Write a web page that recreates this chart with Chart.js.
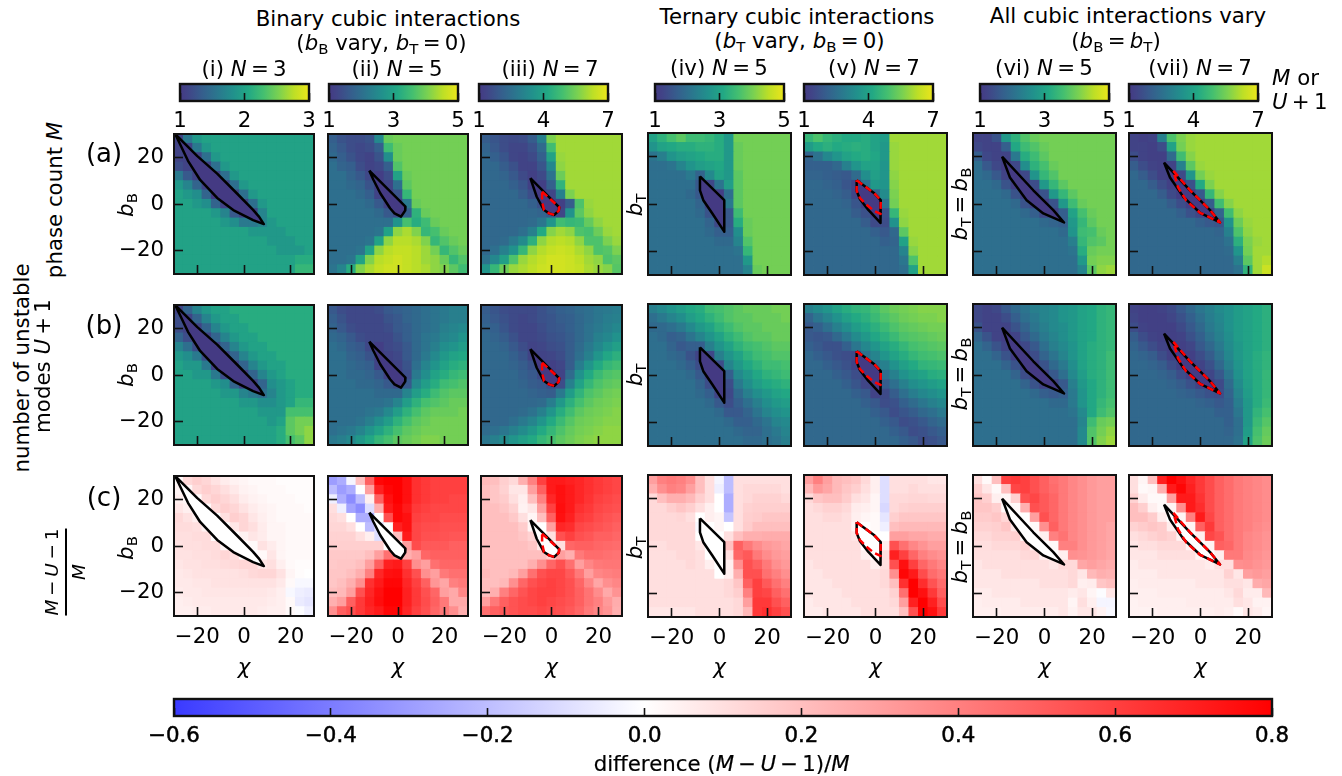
<!DOCTYPE html>
<html>
<head>
<meta charset="utf-8">
<script src="https://cdn.jsdelivr.net/npm/chart.js@4"></script>
<style>
  body { margin: 0; background: #fff; }
  #page { position: relative; width: 1342px; height: 776px; overflow: hidden; font-family: "DejaVu Sans", sans-serif; color: #000; }
  #page canvas { position: absolute; }
  .txt { position: absolute; white-space: nowrap; font-size: 21.3px; line-height: 1; }
  .txt sub { font-size: 70%; line-height: 0; vertical-align: -0.25em; }
  .frac { display: inline-flex; flex-direction: column; align-items: center; font-size: 18.5px; }
  .frac span:first-child { border-bottom: 2px solid #000; padding-bottom: 3px; }
  .frac span:last-child { padding-top: 3px; }
</style>
</head>
<body>
<div id="page"></div>
<script>
// grid centres of the heat maps (rows run from top to bottom)
const gridChi = [-28, -24, -20, -16, -12, -8, -4, 0, 4, 8, 12, 16, 20, 24, 28];
const gridB = [28, 24, 20, 16, 12, 8, 4, 0, -4, -8, -12, -16, -20, -24, -28];
const axisTicks = [-20, 0, 20];

const ticksN3 = [1, 2, 3];
const ticksN5 = [1, 3, 5];
const ticksN7 = [1, 4, 7];
const ticksDiff = [-0.6, -0.4, -0.2, 0, 0.2, 0.4, 0.6, 0.8];

// phase count M
const phaseI = [
  [1.1,1.6,1.9,2,2,2,2,2,2,2,2,2,2,2,2],
  [1.1,1.1,1.6,1.9,2,2,2,2,2,2,2,2,2,2,2],
  [1.1,1.1,1.1,1.5,1.9,2,2,2,2,2,2,2,2,2,2],
  [1.2,1.1,1.1,1.1,1.5,1.9,2,2,2,2,2,2,2,2,2],
  [1.6,1.3,1.1,1,1.1,1.5,1.9,2,2,2,2,2,2,2,2],
  [1.9,1.7,1.4,1.1,1,1.1,1.5,1.9,2,2,2,2,2,2,2],
  [2,1.9,1.8,1.4,1,1,1.1,1.5,1.9,2,2,2,2,2,2],
  [2,2,1.9,1.8,1.4,1.1,1,1.1,1.5,1.9,2,2,2,2,2],
  [2,2,2,2,1.9,1.7,1.3,1.1,1.1,1.7,2,2,2,2,2],
  [2,2,2,2,2,1.9,1.8,1.6,1.6,1.7,1.9,2,2,2,2],
  [2,2,2,2,2,2,2,2,1.9,1.9,1.9,1.9,2,2,2],
  [2,2,2,2,2,2,2,2,2,2,1.9,1.9,1.9,2,2],
  [2,2,2,2,2,2,2,2,2,2,2,1.9,1.9,1.9,2],
  [2,2,2,2,2,2,2,2,2,2,2,2,2,2.1,2.1],
  [2,2,2,2,2,2,2,2,2,2,2,2,2,2.2,2.2]
];
const phaseII = [
  [1.7,1.5,1.4,1.4,1.5,2.5,3.9,4,4,4,4,4,4,4,4],
  [1.8,1.6,1.4,1.3,1.4,1.7,3.5,3.9,4,4,4,4,4,4,4],
  [1.9,1.7,1.5,1.3,1.2,1.5,2.6,3.9,4,4,4,4,4,4,4],
  [2,1.8,1.7,1.4,1.2,1.3,1.7,3.7,4,4,4,4,4,4,4],
  [2,2,1.8,1.6,1.3,1.1,1.4,3,3.9,4,4,4,4,4,4],
  [2,2,1.9,1.8,1.5,1.1,1.2,2,3.8,4,4,4,4,4,4],
  [2,2,2,1.9,1.7,1.2,1.1,1.5,3.4,4,4,4,4,4,4],
  [2,2,2,2,1.9,1.6,1.2,1.1,2.2,3.9,4,4,4,4,4],
  [2,2,2,2,2,1.9,1.6,1.4,1.7,3.3,3.9,4,4,4,4],
  [2,2,2,2,2,2,2,2.7,3.6,3.2,3.5,3.9,4,4,4],
  [2,2,2,2,2,2.1,3,4.2,4.4,4.1,3.4,3.6,3.9,4,4],
  [2,2,2,2,2.1,3,4.2,4.5,4.5,4.4,4.1,3.4,3.7,3.9,4],
  [2,2,2,2.1,3,4.2,4.5,4.6,4.6,4.5,4.3,4,3.4,3.7,3.9],
  [2,2,2.1,3,4.1,4.5,4.6,4.7,4.6,4.5,4.3,4.2,3.9,3.4,3.7],
  [2.1,2.4,3.2,4.1,4.4,4.6,4.7,4.7,4.6,4.5,4.4,4.2,4.1,3.8,3.5]
];
const phaseIII = [
  [2,1.8,1.6,1.5,1.6,2,3,5.6,6,6,6,6,6,6,6],
  [2.2,1.9,1.6,1.4,1.4,1.7,2.4,4.8,6,6,6,6,6,6,6],
  [2.3,2.1,1.8,1.4,1.3,1.5,2.1,4,5.9,6,6,6,6,6,6],
  [2.3,2.3,2,1.7,1.3,1.3,1.8,3.2,5.8,6,6,6,6,6,6],
  [2.3,2.3,2.2,1.9,1.5,1.2,1.5,2.6,5.4,6,6,6,6,6,6],
  [2.3,2.3,2.3,2.1,1.8,1.2,1.2,2.1,4.5,6,6,6,6,6,6],
  [2.3,2.3,2.3,2.3,2,1.6,1.2,1.4,3,5.6,6,6,6,6,6],
  [2.3,2.3,2.3,2.3,2.3,2.1,1.7,1.2,1.2,2,5,5.9,6,6,6],
  [2.3,2.3,2.3,2.3,2.3,2.3,2.2,1.9,1.4,3.5,5.2,5.8,6,6,6],
  [2.3,2.3,2.3,2.3,2.3,2.4,2.7,3.6,4.8,4.6,4.7,5.3,5.8,6,6],
  [2.3,2.3,2.3,2.3,2.5,3,4.2,5.7,6,5.8,5,4.9,5.4,5.9,6],
  [2.3,2.3,2.4,2.8,3.3,4.4,5.8,6.2,6.3,6.2,5.8,5,5,5.6,5.9],
  [2.3,2.5,3,3.5,4.6,5.8,6.2,6.4,6.5,6.4,6.1,5.8,5,5.1,5.6],
  [2.6,3.2,3.9,5,5.9,6.2,6.4,6.6,6.6,6.5,6.3,6,5.8,5,5.2],
  [3.6,4.6,5.4,5.9,6.1,6.3,6.5,6.6,6.6,6.5,6.4,6.1,5.9,5.7,5.1]
];
const phaseIV = [
  [3,3.3,3.6,3.8,3.5,3.5,3.4,3.2,2.8,4,4,4,4,4,4],
  [2.7,3,3.1,3.2,3.2,3.3,3.3,3.2,2.8,3.9,4,4,4,4,4],
  [2.1,2.3,2.7,2.9,3,3.1,3.2,3.2,2.8,3.9,4,4,4,4,4],
  [2,2,2.1,2.4,2.7,2.9,3,3.1,2.8,3.9,4,4,4,4,4],
  [2,2,2,2,2.2,1.8,2.5,3,2.8,3.8,4,4,4,4,4],
  [2,2,2,2,2,1.6,1.3,2.1,2.9,3.8,4,4,4,4,4],
  [2,2,2,2,1.9,1.6,1.2,1.1,2,3.8,4,4,4,4,4],
  [2,2,2,2,2,1.8,1.2,1.1,2.2,3.8,4,4,4,4,4],
  [2,2,2,2,2,1.9,1.5,1.1,1.6,3.5,4,4,4,4,4],
  [2,2,2,2,2,2,1.8,1.3,1.6,3.2,3.9,4,4,4,4],
  [2,2,2,2,2,2,1.9,1.7,1.7,2.6,3.9,4,4,4,4],
  [2,2,2,2,2,2,2,1.9,1.9,2.4,3.7,4,4,4,4],
  [2,2,2,2,2,2,2,2,2,2.1,3.4,4,4,4,4],
  [2,2,2,2,2,2,2,2,2,2,2.8,4,4,4,4],
  [2,2,2,2,2,2,2,2,2,2,2.4,3.9,4,4,4]
];
const phaseV = [
  [4.6,5,4.6,4.4,4.2,4.2,4.3,4,3.8,6,6,6,6,6,6],
  [3.8,4.2,4.4,4.2,4.3,4.4,4.3,4,3.7,5.9,6,6,6,6,6],
  [2.2,2.6,3.2,3.6,4,4.2,4.3,4.1,3.7,5.9,6,6,6,6,6],
  [2.1,2.1,2.1,2.3,3,3.6,4,4,3.6,5.9,6,6,6,6,6],
  [2.2,2.2,2.1,2,1.9,2.4,3.4,3.9,3.6,5.8,6,6,6,6,6],
  [2.3,2.3,2.2,2.1,1.8,1.4,2.6,3.7,3.6,5.7,6,6,6,6,6],
  [2.3,2.3,2.3,2.2,2,1.4,1.2,2.2,3.3,5.6,6,6,6,6,6],
  [2.3,2.3,2.3,2.3,2.2,1.8,1.2,1.1,2.6,5.5,6,6,6,6,6],
  [2.3,2.3,2.3,2.3,2.3,2,1.7,1.2,1.7,4.6,5.9,6,6,6,6],
  [2.3,2.3,2.3,2.3,2.3,2.3,2,1.5,1.6,3.5,5.8,6,6,6,6],
  [2.3,2.3,2.3,2.3,2.3,2.3,2.3,2.1,1.9,2.3,5.2,6,6,6,6],
  [2.3,2.3,2.3,2.3,2.3,2.3,2.3,2.3,2.1,2.2,4,5.9,6,6,6],
  [2.3,2.3,2.3,2.3,2.3,2.3,2.3,2.3,2.3,2.3,3.1,5.7,6,6,6],
  [2.3,2.3,2.3,2.3,2.3,2.3,2.3,2.3,2.3,2.3,2.7,5,6,6,6],
  [2.3,2.3,2.3,2.3,2.3,2.3,2.3,2.3,2.3,2.3,2.5,4,6,6,6]
];
const phaseVI = [
  [1.2,1.2,1.5,2.8,3.3,3.7,3.9,4,4,4,4,4,4,4,4],
  [1.3,1.2,1.2,1.7,3.1,3.5,3.7,3.9,4,4,4,4,4,4,4],
  [1.7,1.3,1.2,1.2,2.2,3.2,3.5,3.8,4,4,4,4,4,4,4],
  [2,1.6,1.3,1.1,1.3,2.6,3.3,3.6,3.9,4,4,4,4,4,4],
  [2,1.9,1.6,1.2,1.1,1.3,2.7,3.4,3.7,4,4,4,4,4,4],
  [2,2,1.9,1.5,1.1,1.1,1.4,2.8,3.4,3.8,4,4,4,4,4],
  [2,2,2,1.9,1.5,1.1,1.1,1.5,2.8,3.4,3.8,4,4,4,4],
  [2,2,2,2,1.9,1.5,1.2,1.1,1.5,2.8,3.5,3.9,4,4,4],
  [2,2,2,2,2,1.9,1.7,1.3,1.2,1.7,3,3.6,3.9,4,4],
  [2,2,2,2,2,2,2,1.9,1.8,1.7,2.8,3.4,3.8,4,4],
  [2,2,2,2,2,2,2,2,2,1.9,2.7,3.5,3.6,3.9,4],
  [2,2,2,2,2,2,2,2,2,2,2.3,3.4,3.7,3.8,4],
  [2,2,2,2,2,2,2,2,2,2,2.1,3.2,3.9,4,4],
  [2,2,2,2,2,2,2,2,2,2,2,2.8,4,4.1,4.1],
  [2,2,2,2,2,2,2,2,2,2,2,2.4,3.8,4.2,4.3]
];
const phaseVII = [
  [1.3,1.2,1.3,3,5,5.6,5.9,6,6,6,6,6,6,6,6],
  [1.3,1.3,1.2,1.6,4,5.5,5.9,6,6,6,6,6,6,6,6],
  [1.6,1.3,1.2,1.2,2.4,4.8,5.7,6,6,6,6,6,6,6,6],
  [2,1.6,1.3,1.2,1.3,3,5.2,5.9,6,6,6,6,6,6,6],
  [2.3,2,1.6,1.2,1.1,1.5,3.6,5.5,5.9,6,6,6,6,6,6],
  [2.3,2.3,2,1.6,1.2,1.1,1.7,4.2,5.6,6,6,6,6,6,6],
  [2.3,2.3,2.3,2,1.5,1.1,1.1,1.9,4.6,5.7,6,6,6,6,6],
  [2.3,2.3,2.3,2.3,2,1.6,1.2,1.1,2,4.8,5.7,6,6,6,6],
  [2.3,2.3,2.3,2.3,2.3,2.1,1.7,1.4,1.2,2.2,4.8,5.8,6,6,6],
  [2.3,2.3,2.3,2.3,2.3,2.3,2.3,2.1,1.9,1.8,3.5,5.4,5.9,6,6],
  [2.3,2.3,2.3,2.3,2.3,2.3,2.3,2.3,2.3,2.2,3,5,5.8,6,6],
  [2.3,2.3,2.3,2.3,2.3,2.3,2.3,2.3,2.3,2.3,2.6,4.4,5.6,5.9,6],
  [2.3,2.3,2.3,2.3,2.3,2.3,2.3,2.3,2.3,2.3,2.4,3.6,5.5,6,6],
  [2.3,2.3,2.3,2.3,2.3,2.3,2.3,2.3,2.3,2.3,2.3,3,5.2,6,6.2],
  [2.3,2.3,2.3,2.3,2.3,2.3,2.3,2.3,2.3,2.3,2.3,2.6,4.5,6,6.5]
];

// number of unstable modes U + 1
const unstableI = [
  [1.1,1.4,1.7,1.9,2,2,2.1,2.1,2.1,2.1,2.1,2.1,2.1,2.1,2.1],
  [1.2,1.1,1.4,1.7,1.9,2,2,2.1,2.1,2.1,2.1,2.1,2.1,2.1,2.1],
  [1.2,1.1,1.1,1.4,1.7,1.9,2,2,2.1,2.1,2.1,2.1,2.1,2.1,2.1],
  [1.4,1.2,1.1,1.1,1.4,1.7,1.9,2,2,2.1,2.1,2.1,2.1,2.1,2.1],
  [1.7,1.5,1.2,1,1.1,1.4,1.7,1.9,2,2,2.1,2.1,2.1,2.1,2.1],
  [1.9,1.8,1.6,1.2,1,1.1,1.4,1.7,1.9,2,2,2.1,2.1,2.1,2.1],
  [2,1.9,1.9,1.6,1.1,1,1.1,1.4,1.7,1.9,2,2,2.1,2.1,2.1],
  [2,2,1.9,1.9,1.6,1.2,1,1.1,1.4,1.7,1.9,2,2.1,2.1,2.1],
  [2,2,2,2,1.9,1.8,1.4,1.1,1.1,1.4,1.8,1.9,2,2.1,2.1],
  [2,2,2,2,2,1.9,1.9,1.7,1.6,1.5,1.7,1.9,2,2.1,2.1],
  [2,2,2,2,2,2,2,1.9,1.9,1.8,1.8,1.9,2,2.2,2.2],
  [2,2,2,2,2,2,2,2,2,1.9,1.9,1.9,2.3,2.3,2.3],
  [2,2,2,2,2,2,2,2,2,2,1.9,2,2.4,2.5,2.5],
  [2,2,2,2,2,2,2,2,2,2,2,2.1,2.4,2.5,2.6],
  [2,2,2,2,2,2,2,2,2,2,2,2.1,2.3,2.4,2.6]
];
const unstableII = [
  [1.6,1.4,1.3,1.3,1.3,1.4,1.6,1.7,1.8,1.9,2,2.1,2.2,2.3,2.3],
  [1.7,1.5,1.3,1.3,1.3,1.3,1.5,1.6,1.8,1.9,2,2.1,2.2,2.3,2.3],
  [1.8,1.6,1.4,1.3,1.3,1.3,1.4,1.6,1.7,1.9,2,2.1,2.3,2.4,2.5],
  [1.9,1.8,1.6,1.4,1.3,1.3,1.3,1.5,1.7,1.9,2.1,2.2,2.4,2.5,2.7],
  [2,1.9,1.7,1.6,1.3,1.1,1.3,1.4,1.6,1.9,2.1,2.3,2.6,2.7,2.9],
  [2,2,1.8,1.7,1.5,1.1,1.2,1.3,1.6,1.9,2.2,2.5,2.8,3,3.1],
  [2,2,1.9,1.8,1.7,1.2,1.1,1.2,1.5,2,2.4,2.7,3,3.2,3.3],
  [2,2,1.9,1.9,1.8,1.6,1.2,1.1,1.4,2.2,2.6,3,3.2,3.4,3.5],
  [2,2,2,1.9,1.9,1.8,1.6,1.4,1.6,2.5,2.9,3.2,3.5,3.6,3.7],
  [2,2,2,2,2,1.9,1.9,1.9,2.4,2.9,3.2,3.5,3.7,3.8,3.8],
  [2,2,2,2,2,2,2.1,2.4,2.9,3.3,3.6,3.7,3.8,3.9,3.9],
  [2,2,2,2,2.1,2.2,2.5,2.9,3.3,3.6,3.8,3.9,3.9,3.9,4],
  [2,2,2,2.1,2.3,2.6,2.9,3.3,3.6,3.8,3.9,4,4,4,4],
  [2,2.1,2.2,2.4,2.7,3,3.3,3.6,3.8,3.9,4,4,4,4,4],
  [2.2,2.3,2.5,2.8,3.1,3.4,3.6,3.8,3.9,4,4.1,4.1,4,4,4]
];
const unstableIII = [
  [2,1.8,1.6,1.5,1.5,1.5,1.7,1.9,2.1,2.2,2.4,2.5,2.7,2.8,2.9],
  [2.1,1.9,1.7,1.5,1.4,1.5,1.7,1.8,2,2.1,2.3,2.5,2.7,2.9,3],
  [2.2,2.1,1.8,1.5,1.4,1.4,1.6,1.8,1.9,2.1,2.3,2.6,2.8,3,3.2],
  [2.3,2.2,2,1.7,1.4,1.4,1.5,1.7,1.8,2,2.3,2.6,3,3.2,3.5],
  [2.3,2.3,2.2,1.9,1.6,1.3,1.4,1.6,1.7,2,2.4,2.8,3.2,3.6,3.9],
  [2.3,2.3,2.3,2.1,1.8,1.3,1.3,1.4,1.6,2,2.5,3,3.6,4.1,4.4],
  [2.3,2.3,2.3,2.2,2,1.7,1.2,1.2,1.4,2,2.9,3.6,4.2,4.6,4.8],
  [2.3,2.3,2.3,2.3,2.1,1.9,1.5,1.2,1.3,2.4,3.5,4.2,4.7,5,5.1],
  [2.3,2.3,2.3,2.3,2.2,2,1.9,1.6,1.6,3,4,4.6,5,5.2,5.3],
  [2.3,2.3,2.3,2.3,2.3,2.2,2.1,2,2.8,3.8,4.5,5,5.2,5.4,5.5],
  [2.3,2.3,2.3,2.3,2.3,2.3,2.4,2.9,3.7,4.4,4.9,5.2,5.4,5.5,5.6],
  [2.3,2.3,2.3,2.3,2.4,2.6,3,3.6,4.3,4.8,5.2,5.4,5.5,5.6,5.7],
  [2.3,2.3,2.3,2.5,2.8,3.1,3.6,4.2,4.7,5.1,5.4,5.5,5.6,5.7,5.7],
  [2.4,2.5,2.7,3,3.3,3.7,4.2,4.6,5,5.3,5.5,5.6,5.7,5.8,5.8],
  [2.7,3,3.3,3.6,3.9,4.2,4.6,4.9,5.2,5.4,5.6,5.7,5.8,5.8,5.8]
];
const unstableIV = [
  [2.3,2.5,2.7,2.9,3.1,3.2,3.5,3.6,3.7,3.8,3.9,3.9,3.9,4,4],
  [2,2.2,2.4,2.6,2.9,3.1,3.3,3.5,3.7,3.8,3.8,3.9,3.9,3.9,4],
  [1.9,1.9,2,2.2,2.5,2.8,3,3.3,3.5,3.7,3.8,3.8,3.9,3.9,3.9],
  [2,1.9,1.7,1.8,2.1,2.4,2.7,3,3.3,3.5,3.7,3.8,3.8,3.9,3.9],
  [2,2,1.8,1.6,1.7,1.7,2.3,2.7,3,3.3,3.5,3.6,3.7,3.8,3.8],
  [2,2,1.9,1.8,1.5,1.2,1.3,2.3,2.7,3,3.3,3.5,3.6,3.7,3.7],
  [2,2,2,1.9,1.7,1.4,1.1,1.4,2.4,2.8,3.1,3.3,3.5,3.5,3.6],
  [2,2,2,2,1.9,1.6,1.2,1.1,1.7,2.5,2.8,3.1,3.3,3.4,3.5],
  [2,2,2,2,2,1.8,1.4,1.1,1.4,2.2,2.6,2.9,3.1,3.2,3.3],
  [2,2,2,2,2,1.9,1.7,1.2,1.3,1.9,2.3,2.6,2.8,3,3.1],
  [2,2,2,2,2,2,1.9,1.6,1.4,1.7,2,2.3,2.6,2.8,2.9],
  [2,2,2,2,2,2,2,1.9,1.6,1.6,1.8,2.1,2.4,2.6,2.7],
  [2,2,2,2,2,2,2,2,1.9,1.7,1.7,1.9,2.1,2.4,2.5],
  [2,2,2,2,2,2,2,2,2,1.9,1.8,1.8,2,2.2,2.4],
  [2,2,2,2,2,2,2,2,2,2,1.9,1.9,2,2.1,2.3]
];
const unstableV = [
  [3,3.3,3.6,4,4.3,4.5,4.6,4.9,5.2,5.4,5.5,5.6,5.7,5.7,5.7],
  [2.2,2.7,3.1,3.5,3.9,4.2,4.4,4.7,5,5.2,5.4,5.5,5.6,5.6,5.7],
  [1.9,2.1,2.5,3,3.4,3.8,4.1,4.4,4.7,5,5.2,5.3,5.4,5.5,5.5],
  [1.9,1.8,1.9,2.3,2.8,3.3,3.7,4.1,4.4,4.7,5,5.1,5.2,5.3,5.4],
  [2.1,1.9,1.7,1.7,2.1,2.7,3.2,3.6,4,4.3,4.6,4.9,5,5.1,5.2],
  [2.3,2.1,1.9,1.7,1.6,1.5,2.6,3.1,3.6,4,4.3,4.6,4.8,4.9,5],
  [2.3,2.3,2.1,1.9,1.7,1.3,1.3,2.5,3,3.5,3.9,4.2,4.5,4.6,4.7],
  [2.3,2.3,2.3,2.1,1.9,1.6,1.2,1.3,2.5,3,3.5,3.8,4,4.3,4.4],
  [2.3,2.3,2.3,2.3,2.1,1.8,1.4,1.2,2,2.5,3,3.4,3.6,3.8,4],
  [2.3,2.3,2.3,2.3,2.3,2.1,1.9,1.3,1.5,2,2.5,2.9,3.2,3.4,3.6],
  [2.3,2.3,2.3,2.3,2.3,2.3,2.1,1.9,1.6,1.7,2.1,2.4,2.7,3,3.2],
  [2.3,2.3,2.3,2.3,2.3,2.3,2.3,2.1,1.9,1.6,1.8,2,2.3,2.5,2.8],
  [2.3,2.3,2.3,2.3,2.3,2.3,2.3,2.3,2.1,1.9,1.6,1.7,1.9,2.2,2.4],
  [2.3,2.3,2.3,2.3,2.3,2.3,2.3,2.3,2.3,2.1,1.9,1.6,1.7,1.9,2.1],
  [2.3,2.3,2.3,2.3,2.3,2.3,2.3,2.3,2.3,2.3,2.1,1.9,1.6,1.7,1.9]
];
const unstableVI = [
  [1.3,1.2,1.3,1.6,1.9,2.1,2.3,2.4,2.5,2.7,2.8,3,3.1,3.3,3.4],
  [1.3,1.2,1.2,1.4,1.7,2,2.2,2.4,2.5,2.7,2.8,3,3.1,3.3,3.4],
  [1.5,1.2,1.2,1.2,1.5,1.8,2.1,2.3,2.5,2.6,2.8,3,3.1,3.3,3.4],
  [1.8,1.5,1.2,1.1,1.2,1.6,1.9,2.2,2.4,2.6,2.8,3,3.1,3.3,3.4],
  [2,1.8,1.5,1.2,1.1,1.3,1.6,2,2.3,2.5,2.7,3,3.2,3.3,3.4],
  [2,2,1.8,1.5,1.1,1.1,1.4,1.8,2.1,2.4,2.7,3,3.2,3.3,3.5],
  [2,2,2,1.8,1.5,1.1,1.1,1.5,1.9,2.2,2.6,3,3.2,3.3,3.5],
  [2,2,2,2,1.8,1.4,1.1,1.2,1.6,2,2.5,2.9,3.2,3.3,3.5],
  [2,2,2,2,2,1.8,1.5,1.2,1.2,1.6,2.3,2.8,3.1,3.3,3.5],
  [2,2,2,2,2,2,1.9,1.7,1.6,1.7,2.2,2.7,3.1,3.3,3.5],
  [2,2,2,2,2,2,2,2,1.9,1.9,2.2,2.7,3.1,3.4,3.6],
  [2,2,2,2,2,2,2,2,2,2,2.1,2.5,3.1,3.5,3.7],
  [2,2,2,2,2,2,2,2,2,2,2,2.4,3.5,3.9,4],
  [2,2,2,2,2,2,2,2,2,2,2,2.5,3.7,4,4.2],
  [2,2,2,2,2,2,2,2,2,2,2,2.5,3.7,4.1,4.3]
];
const unstableVII = [
  [1.3,1.2,1.2,1.3,1.5,1.9,2.3,2.7,3,3.3,3.5,3.8,4,4.2,4.4],
  [1.4,1.2,1.2,1.2,1.4,1.7,2.1,2.5,2.9,3.2,3.5,3.8,4,4.2,4.4],
  [1.6,1.3,1.2,1.2,1.2,1.5,1.9,2.3,2.8,3.1,3.5,3.8,4,4.2,4.4],
  [2,1.6,1.3,1.2,1.2,1.3,1.7,2.1,2.6,3,3.4,3.8,4,4.2,4.4],
  [2.2,1.9,1.6,1.3,1.1,1.2,1.4,1.9,2.3,2.8,3.3,3.7,4,4.2,4.4],
  [2.3,2.2,2,1.6,1.2,1.1,1.2,1.6,2,2.6,3.2,3.7,4,4.3,4.5],
  [2.3,2.3,2.2,2,1.6,1.2,1.1,1.3,1.7,2.3,3,3.6,4,4.3,4.5],
  [2.3,2.3,2.3,2.2,2,1.6,1.2,1.1,1.4,1.9,2.7,3.5,4,4.3,4.6],
  [2.3,2.3,2.3,2.3,2.2,2,1.7,1.3,1.2,1.5,2.4,3.3,3.9,4.3,4.6],
  [2.3,2.3,2.3,2.3,2.3,2.2,2.1,1.9,1.7,1.6,2.2,3.1,3.8,4.3,4.6],
  [2.3,2.3,2.3,2.3,2.3,2.3,2.3,2.2,2.1,1.9,2.1,2.9,3.7,4.3,4.7],
  [2.3,2.3,2.3,2.3,2.3,2.3,2.3,2.3,2.3,2.1,2.1,2.7,3.7,4.5,4.9],
  [2.3,2.3,2.3,2.3,2.3,2.3,2.3,2.3,2.3,2.3,2.1,2.5,3.7,4.7,5.1],
  [2.3,2.3,2.3,2.3,2.3,2.3,2.3,2.3,2.3,2.3,2.2,2.5,3.8,4.9,5.3],
  [2.3,2.3,2.3,2.3,2.3,2.3,2.3,2.3,2.3,2.3,2.3,2.6,4,5,5.4]
];

// difference (M - U - 1) / M
const diffI = [
  [.02,.12,.15,.13,.09,.06,.04,.03,.02,.02,.02,.01,.01,.01,.01],
  [.03,.03,.12,.15,.13,.1,.07,.04,.03,.02,.02,.02,.01,.01,.01],
  [.05,.03,.02,.12,.15,.13,.1,.06,.04,.03,.02,.02,.02,.01,.01],
  [.08,.05,.03,.02,.12,.15,.13,.09,.06,.04,.03,.02,.02,.02,.01],
  [.12,.09,.05,.01,0,.1,.15,.13,.08,.05,.03,.02,.02,.02,.02],
  [.11,.11,.1,.04,0,0,.08,.13,.1,.06,.03,.03,.02,.02,.02],
  [.1,.1,.11,.11,.01,0,0,.04,.08,.06,.03,.03,.02,.02,.02],
  [.09,.1,.1,.11,.11,.03,0,0,.02,.09,.06,.03,.02,.02,.02],
  [.09,.09,.1,.1,.11,.13,.1,.01,-.01,.02,.08,.03,.02,.02,.02],
  [.08,.09,.09,.1,.1,.11,.12,.13,.13,.08,.1,.05,.02,.01,.01],
  [.07,.08,.09,.09,.09,.09,.09,.1,.12,.13,.13,.09,.03,.01,0],
  [.07,.07,.08,.08,.09,.09,.09,.09,.09,.09,.09,.07,.02,-.02,-.02],
  [.06,.07,.07,.08,.08,.08,.08,.08,.08,.08,.07,.05,-.02,-.05,-.06],
  [.05,.06,.07,.07,.07,.07,.07,.07,.07,.07,.06,.05,.02,-.06,-.08],
  [.05,.05,.06,.06,.07,.07,.07,.07,.07,.06,.05,.05,.02,-.01,-.05]
];
const diffII = [
  [-.3,-.25,-.03,.2,.5,.78,.8,.8,.75,.65,.62,.6,.6,.6,.6],
  [-.2,-.3,-.25,0,.3,.7,.78,.8,.75,.65,.62,.6,.6,.6,.6],
  [-.05,-.25,-.35,-.2,.05,.5,.75,.8,.75,.65,.62,.6,.6,.58,.58],
  [.1,-.05,-.28,-.35,-.1,.25,.72,.78,.72,.62,.6,.58,.58,.58,.58],
  [.12,.1,0,-.25,-.25,0,.55,.78,.75,.6,.58,.58,.56,.56,.56],
  [.13,.13,.1,0,-.2,-.1,0,.7,.75,.58,.56,.56,.55,.55,.55],
  [.14,.14,.14,.1,.05,-.1,0,.2,.72,.58,.55,.55,.54,.53,.53],
  [.15,.15,.15,.15,.15,.15,0,0,.3,.56,.52,.52,.52,.5,.5],
  [.17,.17,.17,.17,.2,.3,.45,.4,.25,.3,.48,.5,.5,.5,.5],
  [.17,.18,.18,.2,.3,.5,.7,.72,.6,.35,.3,.45,.48,.48,.48],
  [.18,.18,.2,.25,.4,.68,.75,.76,.65,.55,.35,.3,.42,.45,.45],
  [.18,.2,.25,.35,.65,.72,.78,.78,.68,.6,.5,.33,.28,.4,.42],
  [.2,.22,.3,.55,.68,.75,.8,.8,.7,.62,.55,.48,.3,.27,.38],
  [.25,.3,.5,.62,.7,.76,.8,.8,.7,.62,.56,.5,.42,.27,.27],
  [.35,.5,.55,.62,.68,.72,.78,.78,.68,.6,.55,.48,.42,.35,.25]
];
const diffIII = [
  [.22,.2,.15,.12,.25,.4,.6,.72,.72,.7,.68,.65,.62,.6,.58],
  [.2,.18,.14,.08,.08,.3,.5,.72,.75,.72,.68,.65,.62,.6,.58],
  [.2,.18,.16,.1,.05,.2,.4,.68,.75,.72,.68,.64,.6,.58,.56],
  [.2,.2,.18,.14,.04,.08,.3,.6,.76,.72,.65,.62,.58,.56,.55],
  [.2,.2,.2,.17,.1,.03,.2,.5,.75,.7,.62,.6,.56,.54,.52],
  [.2,.2,.2,.2,.16,.03,0,.3,.68,.66,.58,.56,.54,.52,.5],
  [.2,.2,.2,.2,.18,.14,0,.1,.55,.6,.55,.53,.5,.5,.48],
  [.2,.2,.2,.2,.2,.18,.08,0,.1,.48,.5,.5,.48,.47,.46],
  [.2,.2,.2,.2,.2,.2,.2,.15,.3,.25,.42,.46,.46,.45,.44],
  [.2,.2,.2,.2,.2,.25,.35,.48,.55,.45,.3,.38,.42,.43,.43],
  [.22,.2,.2,.22,.3,.45,.55,.58,.58,.52,.42,.3,.38,.4,.41],
  [.2,.2,.22,.35,.48,.55,.58,.6,.58,.55,.48,.38,.28,.35,.38],
  [.2,.25,.4,.48,.54,.58,.6,.6,.58,.55,.5,.44,.36,.27,.34],
  [.3,.42,.5,.54,.56,.58,.6,.58,.56,.54,.5,.44,.4,.32,.26],
  [.45,.5,.52,.54,.56,.56,.58,.56,.55,.52,.48,.42,.38,.34,.25]
];
const diffIV = [
  [.3,.4,.42,.4,.35,.2,.1,-.03,-.2,.1,.1,.1,.1,.1,.1],
  [.25,.35,.4,.38,.3,.2,.1,-.05,-.2,.1,.12,.12,.12,.12,.1],
  [.12,.2,.25,.25,.22,.15,.1,0,-.25,.1,.12,.14,.14,.14,.12],
  [.12,.12,.15,.18,.15,.1,.05,0,-.25,.1,.14,.15,.15,.15,.15],
  [.12,.12,.12,.13,.1,0,.05,.03,-.18,.1,.15,.16,.18,.18,.18],
  [.12,.12,.12,.12,.12,-.02,0,.03,0,.1,.16,.2,.2,.2,.2],
  [.12,.12,.12,.12,.12,0,0,0,.1,.2,.25,.25,.26,.26,.26],
  [.1,.1,.12,.12,.12,.08,0,0,.2,.5,.42,.36,.32,.3,.28],
  [.1,.1,.1,.12,.12,.1,0,0,.1,.48,.52,.42,.36,.32,.3],
  [.1,.1,.1,.1,.12,.1,.05,0,.05,.35,.55,.5,.42,.35,.32],
  [.1,.1,.1,.1,.1,.1,.1,0,.05,.25,.55,.55,.45,.4,.35],
  [.1,.1,.1,.1,.1,.1,.1,.1,.12,.18,.5,.6,.52,.45,.4],
  [.1,.1,.1,.1,.1,.1,.1,.1,.12,.15,.4,.6,.58,.5,.45],
  [.1,.1,.1,.1,.1,.1,.1,.1,.1,.12,.3,.62,.62,.55,.5],
  [.08,.08,.08,.08,.08,.1,.1,.1,.1,.12,.22,.62,.65,.6,.55]
];
const diffV = [
  [.3,.4,.3,.22,.2,.18,.12,.05,-.1,.1,.1,.1,.1,.08,.08],
  [.22,.32,.28,.22,.18,.15,.1,.05,-.1,.1,.1,.12,.1,.1,.1],
  [.12,.18,.2,.2,.16,.1,.08,.03,-.1,.12,.12,.13,.13,.12,.12],
  [.1,.12,.14,.14,.12,.06,.05,.03,-.12,.12,.14,.15,.15,.15,.15],
  [.1,.1,.12,.12,.1,.05,.03,.02,-.08,.15,.18,.18,.18,.18,.18],
  [.1,.1,.1,.1,.1,.03,0,.02,-.05,.2,.22,.22,.22,.22,.22],
  [.1,.1,.1,.1,.1,.08,0,0,0,.3,.3,.28,.28,.26,.26],
  [.1,.1,.1,.1,.1,.1,0,0,.05,.55,.45,.38,.34,.3,.3],
  [.1,.1,.1,.1,.1,.1,.05,0,.1,.7,.6,.48,.4,.36,.34],
  [.08,.1,.1,.1,.1,.1,.1,.05,.1,.55,.75,.6,.48,.42,.38],
  [.08,.08,.1,.1,.1,.1,.1,.1,.12,.35,.78,.72,.56,.46,.42],
  [.08,.08,.08,.1,.1,.1,.1,.1,.12,.2,.65,.8,.66,.54,.46],
  [.08,.08,.08,.08,.1,.1,.1,.1,.1,.14,.45,.8,.75,.62,.5],
  [.06,.08,.08,.08,.08,.1,.1,.1,.1,.12,.3,.7,.8,.7,.56],
  [.06,.06,.08,.08,.08,.08,.1,.1,.1,.1,.2,.55,.8,.75,.62]
];
const diffVI = [
  [.1,.02,.2,.6,.62,.6,.55,.5,.45,.42,.38,.35,.32,.3,.3],
  [.15,.08,.02,.2,.58,.6,.55,.5,.46,.42,.38,.35,.32,.3,.3],
  [.18,.15,.05,.03,.15,.55,.58,.52,.48,.42,.38,.35,.32,.3,.3],
  [.18,.18,.15,.02,.02,.25,.55,.52,.48,.42,.38,.35,.32,.3,.3],
  [.16,.16,.18,.13,0,0,.3,.55,.48,.42,.38,.35,.32,.3,.3],
  [.14,.14,.15,.18,.08,0,.02,.35,.5,.42,.38,.35,.32,.3,.28],
  [.12,.12,.14,.14,.15,.02,0,.05,.4,.44,.38,.35,.32,.3,.28],
  [.1,.1,.12,.12,.12,.14,.05,0,.02,.4,.4,.35,.32,.3,.28],
  [.1,.1,.1,.1,.1,.12,.13,.05,0,.05,.35,.34,.32,.3,.28],
  [.08,.1,.1,.1,.1,.1,.1,.1,.08,.12,.12,.28,.3,.28,.26],
  [.08,.08,.08,.1,.1,.1,.1,.1,.1,.1,.12,.08,.22,.25,.24],
  [.08,.08,.08,.08,.08,.08,.08,.1,.1,.1,.12,.05,.06,.18,.2],
  [.06,.06,.08,.08,.08,.08,.08,.08,.08,.08,.06,.08,.03,-.01,.08],
  [.05,.06,.06,.06,.06,.08,.08,.08,.08,.08,.03,.1,.05,-.03,-.03],
  [.05,.05,.05,.06,.06,.06,.06,.06,.06,.08,.04,.08,.08,.04,-.02]
];
const diffVII = [
  [.1,.03,.2,.7,.8,.75,.68,.62,.56,.5,.46,.42,.4,.38,.36],
  [.1,.02,.03,.25,.72,.78,.7,.62,.56,.5,.46,.42,.4,.38,.36],
  [.14,.06,.02,.02,.3,.72,.72,.64,.56,.5,.46,.42,.4,.38,.36],
  [.2,.15,.05,.02,.03,.35,.72,.66,.56,.5,.46,.42,.4,.38,.36],
  [.2,.2,.16,.06,0,.03,.4,.72,.58,.5,.46,.42,.4,.38,.36],
  [.14,.16,.18,.16,.06,0,.03,.5,.62,.5,.46,.42,.4,.37,.35],
  [.1,.12,.14,.16,.14,.04,0,.05,.58,.54,.46,.42,.38,.36,.34],
  [.08,.1,.1,.12,.12,.12,.04,0,.03,.5,.48,.42,.38,.36,.34],
  [.08,.08,.08,.1,.1,.1,.1,.03,0,.05,.42,.42,.37,.35,.33],
  [.06,.08,.08,.08,.08,.08,.08,.08,.06,.1,.1,.35,.36,.34,.32],
  [.06,.06,.06,.08,.08,.08,.08,.08,.08,.08,.14,.08,.3,.32,.3],
  [.05,.06,.06,.06,.06,.06,.06,.08,.08,.08,.1,.1,.08,.26,.28],
  [.05,.05,.05,.06,.06,.06,.06,.06,.06,.06,.08,.12,.06,.06,.22],
  [.04,.05,.05,.05,.05,.05,.06,.06,.06,.06,.06,.1,.08,.04,.04],
  [.04,.04,.04,.05,.05,.05,.05,.05,.05,.06,.05,.02,.08,.06,.03]
];

// outline of the region (chi, b), and the N-phase part in red where there is one
const outlineI = [[-29.5,30],[-20,20.5],[-11.5,13],[-3,4.5],[3.9,-2.5],[6.5,-5.5],[8.5,-8.6],[3.9,-6.9],[-4.6,-2.6],[-11.5,2.6],[-18.8,10.3],[-24,18.5],[-29.5,30]];
const outlineII = [[-12.3,14.3],[3.2,-1.1],[3.1,-2.8],[1.3,-5.4],[-1.5,-4],[-3.4,-1.8],[-7.6,4.6],[-10.5,10.3],[-12.3,14.3]];
const outlineIII = [[-9,11.1],[3.3,-1.4],[3.1,-2.8],[1.2,-4.7],[-1,-4],[-3.2,-2.6],[-6.3,3.1],[-9,11.1]];
const outlineIV = [[-8.2,11.7],[2,1.6],[2,-11.7],[-3,-4],[-6.8,1.6],[-8.2,5.8],[-8.2,11.7]];
const outlineV = [[-7.9,10],[-0.5,4.5],[2.2,1.6],[2.1,-8],[-3,-2.5],[-6.5,2],[-7.9,5.5],[-7.9,10]];
const outlineVI = [[-17.8,20],[-4.7,5.8],[3.7,-2.6],[8.2,-7.8],[-0.5,-4],[-7.5,1.6],[-14.5,11.2],[-17.8,20]];
const outlineVII = [[-15.3,17.5],[-4.4,5.8],[4,-2.6],[8.2,-7.8],[-0.2,-3.7],[-7.2,3],[-12.8,11.2],[-15.3,17.5]];
const redIII = [[-4,5.3],[3.3,-1.4],[3.1,-2.8],[1.2,-4.7],[-1,-4],[-3.2,-2.6],[-4,1],[-4,5.3]];
const redV = [[-7.9,10],[-0.5,4.5],[2.2,1.6],[2.1,-4.2],[-0.5,-3],[-3.5,-0.5],[-6.5,2.5],[-7.9,5.5],[-7.9,10]];
const redVII = [[-11.4,14],[-4.4,5.8],[4,-2.6],[8.2,-7.8],[-0.2,-3.7],[-6,1.5],[-9.4,7],[-11.4,14]];

Chart.defaults.font.family = '"DejaVu Sans", sans-serif';
Chart.defaults.font.size = 21.3;
Chart.defaults.color = "#000";
Chart.defaults.animation = false;

const page = document.getElementById("page");

// viridis without its darkest part, as in the reference
const viridisStops = ["#443a83", "#414487", "#355f8d", "#2a788e", "#21918c", "#22a884", "#44bf70", "#7ad151", "#bddf26", "#ece51b"];
const viridisPos = [0, 0.0588, 0.1765, 0.2941, 0.4118, 0.5294, 0.6471, 0.7647, 0.8824, 1];

function hexToRgb(hex) {
  return [1, 3, 5].map((i) => parseInt(hex.slice(i, i + 2), 16));
}

function viridis(t) {
  t = Math.min(1, Math.max(0, t));
  let i = 0;
  while (i < viridisPos.length - 2 && t > viridisPos[i + 1]) i++;
  const f = (t - viridisPos[i]) / (viridisPos[i + 1] - viridisPos[i]);
  const a = hexToRgb(viridisStops[i]);
  const b = hexToRgb(viridisStops[i + 1]);
  return "rgb(" + a.map((v, k) => Math.round(v + (b[k] - v) * f)).join(",") + ")";
}

function diffColor(v) {
  if (v < 0) {
    const f = Math.min(1, -v / 0.6);
    return "rgb(" + Math.round(255 - 197 * f) + "," + Math.round(255 - 197 * f) + ",255)";
  }
  const f = Math.min(1, v / 0.8);
  const c = Math.round(255 * (1 - f));
  return "rgb(255," + c + "," + c + ")";
}

// black frame on all four sides of a plot
const framePlugin = {
  id: "frame",
  afterDraw(chart, args, opts) {
    const { left, top, width, height } = chart.chartArea;
    const ctx = chart.ctx;
    ctx.save();
    ctx.strokeStyle = "#111";
    ctx.lineWidth = opts.width || 2;
    ctx.strokeRect(left, top, width, height);
    ctx.restore();
  },
};

function minusSign(v) {
  return String(v).replace("-", "\u2212");
}

function addCanvas(x, y, w, h) {
  const canvas = document.createElement("canvas");
  canvas.width = w;
  canvas.height = h;
  canvas.style.left = x + "px";
  canvas.style.top = y + "px";
  page.appendChild(canvas);
  return canvas.getContext("2d");
}

function heatmapChart(p) {
  // top margin has to hold the label overflow Chart.js reserves on the y axis
  const mL = 60, mR = 14, mT = 36, mB = 40;
  const ctx = addCanvas(p.x - mL, p.y - mT, p.w + mL + mR, p.h + mT + mB);

  const cells = [];
  const colors = [];
  p.values.forEach((row, r) => {
    row.forEach((v, c) => {
      cells.push({ x: gridChi[c], y: gridB[r] });
      colors.push(p.color(v));
    });
  });

  const datasets = [
    {
      data: cells,
      pointStyle: "rect",
      pointBackgroundColor: colors,
      pointBorderWidth: 0,
      pointRadius: (c) => {
        const s = c.chart.scales.x;
        return (Math.abs(s.getPixelForValue(4) - s.getPixelForValue(0)) + 0.8) / Math.SQRT2;
      },
      order: 3,
    },
    {
      data: p.outline.map(([x, y]) => ({ x, y })),
      showLine: true,
      pointRadius: 0,
      borderColor: "#000",
      borderWidth: 2.5,
      borderJoinStyle: "round",
      fill: "shape",
      backgroundColor: p.fill,
      order: 2,
    },
  ];
  if (p.red) {
    datasets.push({
      data: p.red.map(([x, y]) => ({ x, y })),
      showLine: true,
      pointRadius: 0,
      borderColor: "#f00",
      borderWidth: 2.5,
      borderJoinStyle: "round",
      borderDash: [7, 4],
      order: 1,
    });
  }

  new Chart(ctx, {
    type: "scatter",
    data: { datasets },
    plugins: [framePlugin],
    options: {
      responsive: false,
      events: [],
      layout: { padding: { left: 0, right: mR, top: mT, bottom: 0 } },
      plugins: { legend: { display: false }, tooltip: { enabled: false } },
      scales: {
        x: {
          type: "linear",
          min: -30,
          max: 30,
          border: { display: false },
          grid: { drawOnChartArea: false, tickLength: -9, tickWidth: 1.6, tickColor: "#111", z: 1 },
          afterBuildTicks: (s) => { s.ticks = axisTicks.map((value) => ({ value })); },
          afterFit: (s) => { s.height = mB; },
          ticks: { display: p.showX, autoSkip: false, maxRotation: 0, minRotation: 0, padding: 18, callback: minusSign },
        },
        y: {
          type: "linear",
          min: -30,
          max: 30,
          border: { display: false },
          grid: { drawOnChartArea: false, tickLength: -9, tickWidth: 1.6, tickColor: "#111", z: 1 },
          afterBuildTicks: (s) => { s.ticks = axisTicks.map((value) => ({ value })); },
          afterFit: (s) => { s.width = mL; },
          ticks: { display: p.showY, autoSkip: false, padding: 19, callback: minusSign },
        },
      },
    },
  });
}

function colorbarChart(b) {
  const mS = 44, mT = 4, mB = 40;
  const ctx = addCanvas(b.x - mS, b.y - mT, b.w + 2 * mS, b.h + mT + mB);

  new Chart(ctx, {
    type: "bar",
    data: {
      labels: [""],
      datasets: [
        {
          data: [[b.ticks[0], b.ticks[b.ticks.length - 1]]],
          barPercentage: 1,
          categoryPercentage: 1,
          backgroundColor: (c) => {
            const area = c.chart.chartArea;
            if (!area) return "#888";
            const g = c.chart.ctx.createLinearGradient(area.left, 0, area.right, 0);
            b.stops.forEach(([pos, col]) => g.addColorStop(pos, col));
            return g;
          },
        },
      ],
    },
    plugins: [framePlugin],
    options: {
      indexAxis: "y",
      responsive: false,
      events: [],
      layout: { padding: { left: mS, right: mS, top: mT, bottom: 0 } },
      plugins: { legend: { display: false }, tooltip: { enabled: false }, frame: { width: 2.4 } },
      scales: {
        y: { display: false },
        x: {
          type: "linear",
          min: b.ticks[0],
          max: b.ticks[b.ticks.length - 1],
          border: { display: false },
          grid: { drawOnChartArea: false, tickLength: -8, tickWidth: 1.6, tickColor: "#111", z: 1 },
          afterBuildTicks: (s) => { s.ticks = b.ticks.map((value) => ({ value })); },
          afterFit: (s) => { s.height = mB; },
          ticks: {
            autoSkip: false,
            maxRotation: 0,
            minRotation: 0,
            padding: b.tickPad,
            textStrokeColor: "#000",
            textStrokeWidth: b.stroke || 0,
            callback: b.format,
          },
        },
      },
    },
  });
}

function addText(html, x, y, opts = {}) {
  const el = document.createElement("div");
  el.className = "txt";
  el.innerHTML = html;
  el.style.left = x + "px";
  el.style.top = y + "px";
  if (opts.size) el.style.fontSize = opts.size + "px";
  if (opts.weight) el.style.webkitTextStroke = opts.weight + "px #000";
  const ax = opts.left ? "0" : "-50%";
  el.style.transform = "translate(" + ax + ",-50%)" + (opts.rotate ? " rotate(-90deg)" : "");
  page.appendChild(el);
}

// layout of the grid of panels
const colX = [173.7, 327.7, 481, 648, 804, 973, 1129];
const colW = [140.6, 140.3, 141, 143, 143, 143, 143];
const rowYNarrow = [134, 304.7, 476];
const rowYWide = [132.7, 303.7, 475];
const rowHNarrow = 140.5;
const rowHWide = 142.3;

const rows = [
  [phaseI, phaseII, phaseIII, phaseIV, phaseV, phaseVI, phaseVII],
  [unstableI, unstableII, unstableIII, unstableIV, unstableV, unstableVI, unstableVII],
  [diffI, diffII, diffIII, diffIV, diffV, diffVI, diffVII],
];
const outlines = [outlineI, outlineII, outlineIII, outlineIV, outlineV, outlineVI, outlineVII];
const redOutlines = [null, null, redIII, null, redV, null, redVII];
const ranges = [[1, 3], [1, 5], [1, 7], [1, 5], [1, 7], [1, 5], [1, 7]];

rows.forEach((row, r) => {
  row.forEach((values, c) => {
    const narrow = c < 3;
    const [lo, hi] = ranges[c];
    heatmapChart({
      x: colX[c],
      y: narrow ? rowYNarrow[r] : rowYWide[r],
      w: colW[c],
      h: narrow ? rowHNarrow : rowHWide,
      values,
      outline: outlines[c],
      red: redOutlines[c],
      fill: r === 2 ? "#fff" : viridis(0),
      color: r === 2 ? diffColor : (v) => viridis((v - lo) / (hi - lo)),
      showX: r === 2,
      showY: c === 0,
    });
  });
});

// colour bars
const viridisBarStops = viridisPos.map((pos, i) => [pos, viridisStops[i]]);
const barX = [180, 329.3, 478.7, 654.7, 803.7, 980, 1129];
const barTicks = [ticksN3, ticksN5, ticksN7, ticksN5, ticksN7, ticksN5, ticksN7];
barX.forEach((x, i) => {
  colorbarChart({ x, y: 84, w: 129.7, h: 17, ticks: barTicks[i], stops: viridisBarStops, tickPad: 16, format: (v) => String(v) });
});
colorbarChart({
  x: 173.7,
  y: 699,
  w: 1098.6,
  h: 17,
  ticks: ticksDiff,
  stops: [[0, "#3a3aff"], [3 / 7, "#ffffff"], [1, "#ff0000"]],
  tickPad: 16,
  stroke: 0.5,
  format: (v) => minusSign(v.toFixed(1)),
});

// titles
const bB = "<i>b</i><sub>B</sub>";
const bT = "<i>b</i><sub>T</sub>";
const nEq = (n) => "<i>N</i>\u2009=\u2009" + n;
addText("Binary cubic interactions", 388, 19);
addText("(" + bB + " vary, " + bT + "\u2009=\u20090)", 381.5, 43);
addText("Ternary cubic interactions", 797, 17);
addText("(" + bT + " vary, " + bB + "\u2009=\u20090)", 799.5, 41);
addText("All cubic interactions vary", 1128, 16);
addText("(" + bB + "\u2009=\u2009" + bT + ")", 1116, 41);
addText("(i) " + nEq(3), 244, 69);
addText("(ii) " + nEq(5), 397, 69);
addText("(iii) " + nEq(7), 550, 69);
addText("(iv) " + nEq(5), 719, 68);
addText("(v) " + nEq(7), 874, 68);
addText("(vi) " + nEq(5), 1044, 68);
addText("(vii) " + nEq(7), 1200, 68);
addText("<i>M</i> or", 1272, 78, { left: true });
addText("<i>U</i>\u2009+\u20091", 1272, 102, { left: true });

// row letters and row names
addText("(a)", 104, 153, { size: 26 });
addText("(b)", 104, 325, { size: 26 });
addText("(c)", 104, 497, { size: 26 });
addText("phase count <i>M</i>", 55, 200, { rotate: true });
addText("number of unstable", 22, 368, { rotate: true });
addText("modes <i>U</i>\u2009+\u20091", 43, 366, { rotate: true });
addText('<span class="frac"><span><i>M</i>\u2009\u2212\u2009<i>U</i>\u2009\u2212\u20091</span><span><i>M</i></span></span>', 64, 572, { rotate: true });

// axis names
[205, 375, 548].forEach((y) => {
  addText(bB, 126, y, { rotate: true });
  addText(bT, 635, y, { rotate: true });
  addText(bT + "\u2009=\u2009" + bB, 960, y - 1, { rotate: true });
});
colX.forEach((x, i) => {
  addText("<i>\u03c7</i>", x + colW[i] / 2, 667);
});
addText("difference (<i>M</i>\u2009\u2212\u2009<i>U</i>\u2009\u2212\u20091)/<i>M</i>", 721.7, 764, { weight: 0.2 });
</script>
</body>
</html>
